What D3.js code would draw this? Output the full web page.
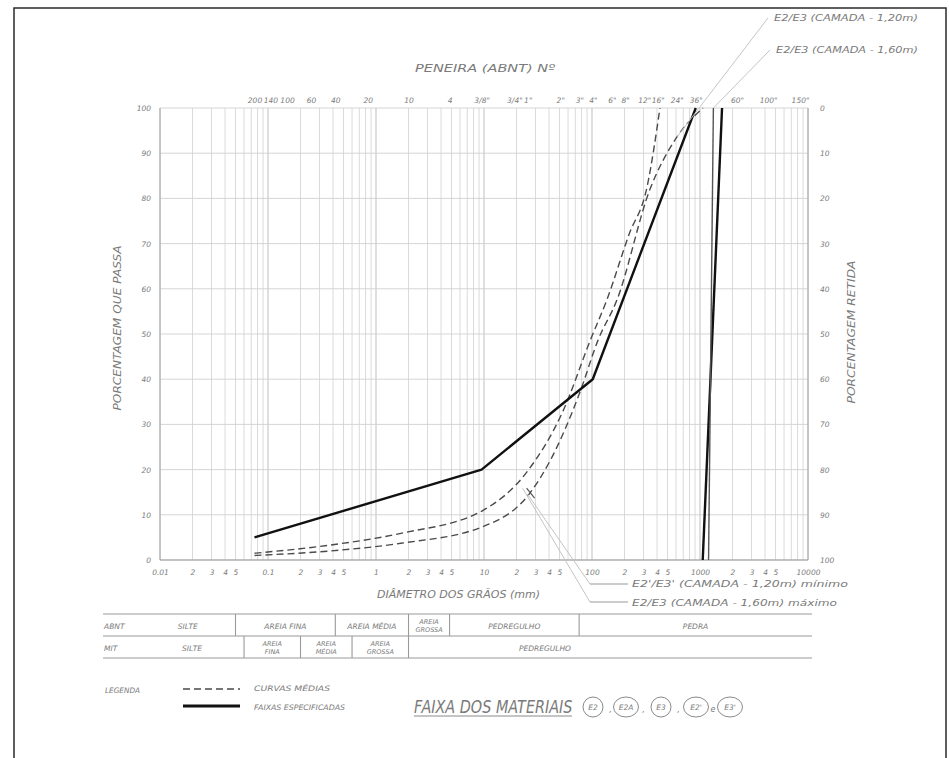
<!DOCTYPE html>
<html>
<head>
<meta charset="utf-8">
<script src="https://cdn.jsdelivr.net/npm/d3@7"></script>
<style>
  body { margin: 0; background: #fff; }
  svg text { font-family: "DejaVu Sans", sans-serif; font-style: italic; fill: #7a7a7a; }
</style>
</head>
<body>
<svg></svg>
<script>
// ---- data ----
const decades = [0.01, 0.1, 1, 10, 100, 1000, 10000];
const minorDigits = [2, 3, 4, 5];
const pctTicks = [0, 10, 20, 30, 40, 50, 60, 70, 80, 90, 100];

// sieve labels on top (ABNT Nº) and their opening in mm
const sieveNames = ["200", "140", "100", "60", "40", "20", "10", "4", '3/8"', '3/4"', '1"', '2"', '3"', '4"', '6"', '8"', '12"', '16"', '24"', '36"', '60"', '100"', '150"'];
const sieveMm = [0.075, 0.105, 0.15, 0.25, 0.42, 0.84, 2.0, 4.8, 9.5, 19.1, 25.4, 50.8, 76.2, 101.6, 152.4, 203, 305, 406, 610, 914, 2200, 4270, 8430];

// faixa especificada (solid)
const faixaMm = [0.075, 9.5, 101.6, 914];
const faixaPct = [5, 20, 40, 100];
// faixas de pedra (solid, near vertical)
const pedraAMm = [1060, 1600];
const pedraBMm = [1200, 1330];
const pedraPct = [0, 100];

// curvas médias (dashed)
const mediaAMm = [0.075, 0.375, 1.7, 9.8, 25, 54, 96, 137, 220, 323, 426];
const mediaAPct = [1.5, 3.3, 5.9, 11, 19.5, 33, 48.5, 57.5, 72, 82.5, 100];
const mediaBMm = [0.075, 0.375, 1.7, 9.8, 27, 41, 77, 114, 170, 344, 612, 1066];
const mediaBPct = [1, 2, 3.7, 7.4, 15, 22, 37, 48.7, 57.5, 82, 93.6, 100];

// classification table
const abntNames = ["SILTE", "AREIA FINA", "AREIA MÉDIA", "AREIA GROSSA", "PEDREGULHO", "PEDRA"];
const abntLimits = [0.05, 0.42, 2.0, 4.8, 76];
const mitNames = ["SILTE", "AREIA FINA", "AREIA MÉDIA", "AREIA GROSSA", "PEDREGULHO"];
const mitLimits = [0.06, 0.2, 0.6, 2.0];

const materiais = ["E2", "E2A", "E3", "E2'", "E3'"];

// ---- layout ----
const width = 949, height = 758;
const svg = d3.select("svg").attr("width", width).attr("height", height);

const x = d3.scaleLog().domain([0.01, 10000]).range([160, 808]);
const y = d3.scaleLinear().domain([0, 100]).range([560, 108]);

// frame
svg.append("rect")
  .attr("x", 14).attr("y", 8).attr("width", 932).attr("height", 800)
  .attr("fill", "none").attr("stroke", "#2a2a2a").attr("stroke-width", 1.5);

// grid
const grid = svg.append("g");
grid.selectAll(".vg").data(x.ticks()).enter().append("line")
  .attr("x1", d => x(d)).attr("x2", d => x(d))
  .attr("y1", y(0)).attr("y2", y(100))
  .attr("stroke", d => decades.includes(d) ? "#b8b8b8" : "#d6d6d6")
  .attr("stroke-width", 0.9);
grid.selectAll(".hg").data(pctTicks).enter().append("line")
  .attr("x1", x(0.01)).attr("x2", x(10000))
  .attr("y1", d => y(d)).attr("y2", d => y(d))
  .attr("stroke", "#d0d0d0").attr("stroke-width", 0.9);
grid.append("line").attr("x1", x(0.01)).attr("x2", x(0.01)).attr("y1", y(0)).attr("y2", y(100)).attr("stroke", "#aaa");
grid.append("line").attr("x1", x(10000)).attr("x2", x(10000)).attr("y1", y(0)).attr("y2", y(100)).attr("stroke", "#aaa");
grid.append("line").attr("x1", x(0.01)).attr("x2", x(10000)).attr("y1", y(0)).attr("y2", y(0)).attr("stroke", "#999");

// axes
const bottomTicks = [];
decades.forEach(d => {
  bottomTicks.push(d);
  if (d < 10000) minorDigits.forEach(k => bottomTicks.push(+(k * d).toPrecision(3)));
});
const fmtBottom = d => {
  if (decades.includes(d)) return String(d);
  return String(Math.round(d / Math.pow(10, Math.floor(Math.log10(d) + 1e-9))));
};
const xAxisGroup = svg.append("g").attr("transform", `translate(0, ${y(0)})`);
d3.axisBottom(x).tickValues(bottomTicks).tickFormat(fmtBottom).tickSize(0).tickPadding(10)(xAxisGroup);

const topGroup = svg.append("g").attr("transform", `translate(0, ${y(100)})`);
d3.axisTop(x).tickValues(sieveMm).tickFormat((d, i) => sieveNames[i]).tickSize(0).tickPadding(5)(topGroup);

const leftGroup = svg.append("g").attr("transform", `translate(${x(0.01)}, 0)`);
d3.axisLeft(y).tickValues(pctTicks).tickSize(0).tickPadding(9)(leftGroup);

const rightGroup = svg.append("g").attr("transform", `translate(${x(10000)}, 0)`);
d3.axisRight(y).tickValues(pctTicks).tickFormat(d => 100 - d).tickSize(0).tickPadding(12)(rightGroup);

[xAxisGroup, topGroup, leftGroup, rightGroup].forEach(g => {
  g.select(".domain").remove();
  g.selectAll("text").attr("font-size", 7.5).attr("fill", "#858585")
    .style("font-family", '"DejaVu Sans", sans-serif').style("font-style", "italic");
});

// curves
const zip = (a, b) => a.map((v, i) => [v, b[i]]);
const straight = d3.line().x(d => x(d[0])).y(d => y(d[1]));
const smooth = d3.line().x(d => x(d[0])).y(d => y(d[1])).curve(d3.curveMonotoneX);

[zip(mediaAMm, mediaAPct), zip(mediaBMm, mediaBPct)].forEach(pts => {
  svg.append("path").attr("d", smooth(pts))
    .attr("fill", "none").attr("stroke", "#4a4a4a").attr("stroke-width", 1.4)
    .attr("stroke-dasharray", "7,4");
});
svg.append("path").attr("d", straight(zip(faixaMm, faixaPct)))
  .attr("fill", "none").attr("stroke", "#111").attr("stroke-width", 2.4).attr("stroke-linejoin", "round");
svg.append("path").attr("d", straight(zip(pedraAMm, pedraPct)))
  .attr("fill", "none").attr("stroke", "#111").attr("stroke-width", 2.4);
svg.append("path").attr("d", straight(zip(pedraBMm, pedraPct)))
  .attr("fill", "none").attr("stroke", "#555").attr("stroke-width", 1.4);

// leaders + annotations
const leader = (x1, y1, x2, y2) => svg.append("line")
  .attr("x1", x1).attr("y1", y1).attr("x2", x2).attr("y2", y2)
  .attr("stroke", "#c4c4c4").attr("stroke-width", 1);
leader(768, 18, x(mediaBMm[10]), y(mediaBPct[10]));
leader(770, 50, x(pedraBMm[1]), y(100));
leader(590, 584, x(mediaBMm[4]) - 3, y(mediaBPct[4]) + 2);
leader(590, 602, x(mediaBMm[4]) - 8, y(mediaBPct[4]) - 4);
svg.append("line").attr("x1", 590).attr("x2", 628).attr("y1", 584).attr("y2", 584).attr("stroke", "#999");
svg.append("line").attr("x1", 590).attr("x2", 628).attr("y1", 602).attr("y2", 602).attr("stroke", "#999");
svg.append("line")
  .attr("x1", x(mediaBMm[4]) - 4).attr("y1", y(mediaBPct[4]) - 4)
  .attr("x2", x(mediaBMm[4]) + 4).attr("y2", y(mediaBPct[4]) + 6)
  .attr("stroke", "#555").attr("stroke-width", 1.2);

const label = (txt, px, py, size, len, anchor) => {
  const t = svg.append("text").attr("x", px).attr("y", py).attr("font-size", size)
    .attr("text-anchor", anchor || "start").text(txt);
  if (len) t.attr("textLength", len).attr("lengthAdjust", "spacingAndGlyphs");
  return t;
};
label("PENEIRA (ABNT) Nº", 415, 72, 10, 140);
label("E2/E3  (CAMADA - 1,20m)", 774, 21, 8.5, 144);
label("E2/E3  (CAMADA - 1,60m)", 776, 53, 8.5, 142);
label("DIÂMETRO DOS GRÃOS (mm)", 377, 598, 10, 163);
label("E2'/E3'  (CAMADA - 1,20m) mínimo", 632, 587, 8.5, 216);
label("E2/E3  (CAMADA - 1,60m) máximo", 632, 606, 8.5, 205);

svg.append("text").attr("transform", "translate(121, 328) rotate(-90)")
  .attr("text-anchor", "middle").attr("font-size", 10)
  .attr("textLength", 165).attr("lengthAdjust", "spacingAndGlyphs")
  .text("PORCENTAGEM QUE PASSA");
svg.append("text").attr("transform", "translate(855, 332) rotate(-90)")
  .attr("text-anchor", "middle").attr("font-size", 10)
  .attr("textLength", 143).attr("lengthAdjust", "spacingAndGlyphs")
  .text("PORCENTAGEM RETIDA");

// classification table
const tableLeft = 103, tableRight = 812;
[614, 636, 658].forEach(ty => {
  svg.append("line").attr("x1", tableLeft).attr("x2", tableRight).attr("y1", ty).attr("y2", ty)
    .attr("stroke", "#9a9a9a").attr("stroke-width", 1.2);
});
const drawRow = (names, limits, top, rowName, firstLeft) => {
  const bounds = [firstLeft, ...limits.map(v => x(v)), tableRight];
  limits.forEach(v => {
    svg.append("line").attr("x1", x(v)).attr("x2", x(v)).attr("y1", top).attr("y2", top + 22)
      .attr("stroke", "#9a9a9a").attr("stroke-width", 1.1);
  });
  label(rowName, tableLeft + 1, top + 14.5, 7.5);
  names.forEach((n, i) => {
    const cx = (bounds[i] + bounds[i + 1]) / 2;
    const w = bounds[i + 1] - bounds[i];
    if (w < 62 && n.includes(" ")) {
      const parts = n.split(" ");
      const t = svg.append("text").attr("x", cx).attr("y", top + 10).attr("font-size", 6.5).attr("text-anchor", "middle");
      t.append("tspan").attr("x", cx).text(parts[0]);
      t.append("tspan").attr("x", cx).attr("dy", 7.5).text(parts[1]);
    } else {
      label(n, cx, top + 14.5, 7.5, null, "middle");
    }
  });
};
drawRow(abntNames, abntLimits, 614, "ABNT", 140);
drawRow(mitNames, mitLimits, 636, "MIT", 140);
// MIT gravel label sits left of its cell centre in the drawing
svg.selectAll("text").filter(function () {
  return this.textContent === "PEDREGULHO" && +this.getAttribute("y") > 640;
}).attr("x", 545);

// legend
label("LEGENDA", 105, 693, 7.5, 35);
svg.append("line").attr("x1", 183).attr("x2", 240).attr("y1", 689).attr("y2", 689)
  .attr("stroke", "#4a4a4a").attr("stroke-width", 1.4).attr("stroke-dasharray", "7,4");
label("CURVAS MÉDIAS", 254, 691, 7.5, 76);
svg.append("line").attr("x1", 183).attr("x2", 240).attr("y1", 706).attr("y2", 706)
  .attr("stroke", "#111").attr("stroke-width", 3);
label("FAIXAS ESPECIFICADAS", 254, 710, 7.5, 91);

svg.append("text").attr("transform", "translate(414, 713) scale(1, 1.2)")
  .attr("font-size", 14.4).attr("fill", "#6a6a6a").text("FAIXA DOS MATERIAIS");
svg.append("line").attr("x1", 414).attr("x2", 572).attr("y1", 716).attr("y2", 716)
  .attr("stroke", "#8a8a8a").attr("stroke-width", 1);

const circleX = [593, 626, 661, 696, 730];
materiais.forEach((m, i) => {
  const rx = m.length > 2 ? 12.5 : 10;
  svg.append("ellipse").attr("cx", circleX[i]).attr("cy", 707).attr("rx", rx).attr("ry", 10)
    .attr("fill", "none").attr("stroke", "#8a8a8a").attr("stroke-width", 1);
  label(m, circleX[i], 710, 7.5, null, "middle");
  if (i < materiais.length - 1) {
    const sep = i === materiais.length - 2 ? "e" : ",";
    label(sep, (circleX[i] + circleX[i + 1]) / 2 + (i === 0 ? 1 : 0), 712, 8, null, "middle");
  }
});
</script>
</body>
</html>
